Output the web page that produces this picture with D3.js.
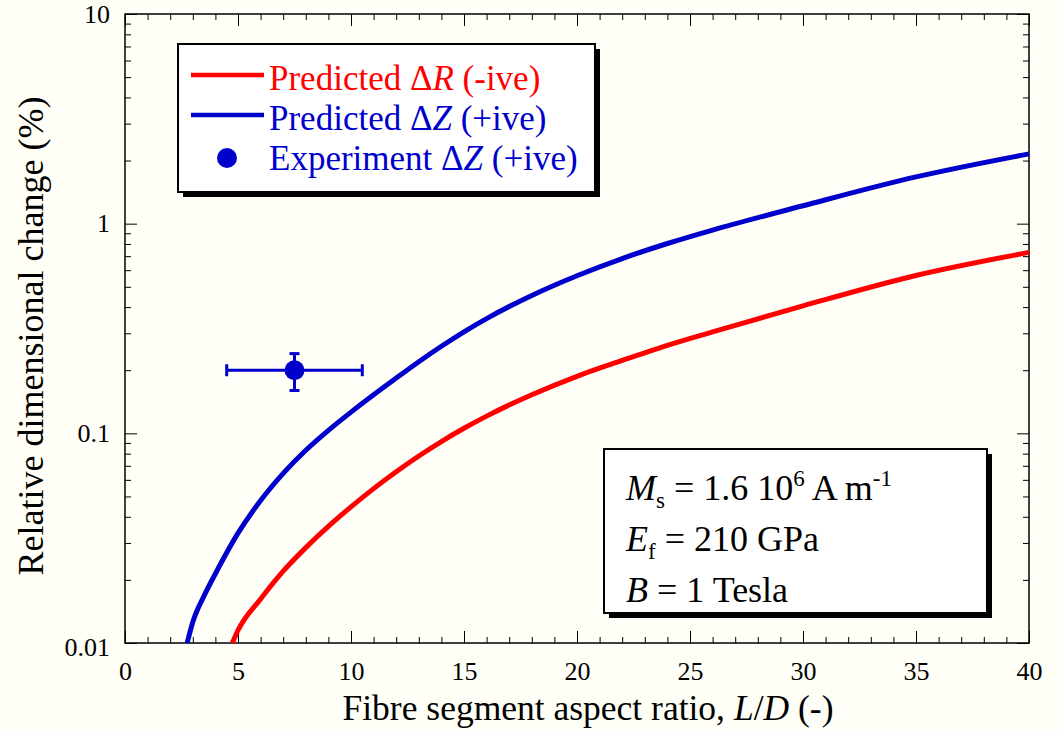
<!DOCTYPE html>
<html>
<head>
<meta charset="utf-8">
<script src="https://cdn.jsdelivr.net/npm/d3@7"></script>
<style>
  body { margin: 0; background: #fffff7; }
  svg { display: block; }
  svg text { font-family: "Liberation Serif", "Times New Roman", serif; }
</style>
</head>
<body>
<svg id="chart"></svg>
<script>
// values
const xMajorTicks = [0, 5, 10, 15, 20, 25, 30, 35, 40]
const yMajorTicks = [0.01, 0.1, 1, 10]
const yTickLabels = ["0.01", "0.1", "1", "10"]

const predictedR_LD = [4.75, 5, 6, 7, 8, 9, 10, 11, 12, 13, 14, 15, 16, 18, 20, 22, 24, 26, 30, 35, 40]
const predictedR = [0.0100, 0.0115, 0.0162, 0.0220, 0.0285, 0.0360, 0.0446, 0.0545, 0.0656, 0.0780, 0.0914, 0.1057, 0.1208, 0.1528, 0.1871, 0.2228, 0.2630, 0.3048, 0.4055, 0.5662, 0.7295]

const predictedZ_LD = [2.75, 3, 3.5, 4, 5, 6, 7, 8, 9, 10, 11, 12, 13, 14, 15, 16, 18, 20, 22, 24, 26, 30, 35, 40]
const predictedZ = [0.0100, 0.0126, 0.0168, 0.0214, 0.0334, 0.0478, 0.0644, 0.0830, 0.1033, 0.1262, 0.1527, 0.1834, 0.2196, 0.2603, 0.3051, 0.3527, 0.4544, 0.5643, 0.6817, 0.8043, 0.9322, 1.217, 1.671, 2.153]

const experimentLD = [7.5]
const experimentLDErr = [3]
const experimentDZ = [0.2]
const experimentDZLow = [0.16]
const experimentDZHigh = [0.24]

const red = "#ff0000"
const blue = "#0000cc"
const serif = '"Liberation Serif", "Times New Roman", serif'

var width = 1063
var height = 730
var margin = ({top: 14, right: 34, bottom: 87, left: 125})

var svg = d3.select("#chart")
	.attr("width", width)
	.attr("height", height)

svg.append("rect")
	.attr("width", width)
	.attr("height", height)
	.attr("fill", "#fffff7")

var x = d3.scaleLinear()
	.domain([0, 40])
	.range([margin.left, width - margin.right])

var y = d3.scaleLog()
	.domain([0.01, 10])
	.range([height - margin.bottom, margin.top])

var xMinor = d3.range(0, 41, 1).filter(v => v % 5 !== 0)
var yMinor = []
yMajorTicks.slice(0, 3).forEach(d => { for (let k = 2; k <= 9; k++) yMinor.push(d * k) })

// minor ticks (no labels), on all four sides, pointing inward
svg.append("g")
	.attr("transform", `translate(0,${y.range()[0]})`)
	.call(d3.axisBottom(x).tickValues(xMinor).tickSize(-6).tickFormat(""))
svg.append("g")
	.attr("transform", `translate(0,${y.range()[1]})`)
	.call(d3.axisTop(x).tickValues(xMinor).tickSize(-6).tickFormat(""))
svg.append("g")
	.attr("transform", `translate(${x.range()[0]},0)`)
	.call(d3.axisLeft(y).tickValues(yMinor).tickSize(-6).tickFormat(""))
svg.append("g")
	.attr("transform", `translate(${x.range()[1]},0)`)
	.call(d3.axisRight(y).tickValues(yMinor).tickSize(-6).tickFormat(""))

// major ticks
svg.append("g")
	.attr("transform", `translate(0,${y.range()[0]})`)
	.call(d3.axisBottom(x).tickValues(xMajorTicks).tickSize(-12).tickPadding(19).tickFormat(d3.format("d")))
svg.append("g")
	.attr("transform", `translate(0,${y.range()[1]})`)
	.call(d3.axisTop(x).tickValues(xMajorTicks).tickSize(-12).tickFormat(""))
var yAxisG = svg.append("g")
	.attr("transform", `translate(${x.range()[0]},0)`)
	.call(d3.axisLeft(y).tickValues(yMajorTicks).tickSize(-12).tickPadding(15).tickFormat((d, i) => yTickLabels[i]))
svg.append("g")
	.attr("transform", `translate(${x.range()[1]},0)`)
	.call(d3.axisRight(y).tickValues(yMajorTicks).tickSize(-12).tickFormat(""))

svg.selectAll(".domain").remove()
svg.selectAll("g").attr("font-family", null).attr("font-size", null)
svg.selectAll(".tick line").attr("stroke", "#000").attr("stroke-width", 1)
svg.selectAll(".tick text")
	.attr("fill", "#000")
	.style("font-family", serif)
	.style("font-size", "26px")
// the lowest label sits a little below its tick
yAxisG.selectAll(".tick").filter(d => d === 0.01).select("text").attr("y", 4)

// frame
svg.append("rect")
	.attr("x", x.range()[0])
	.attr("y", y.range()[1])
	.attr("width", x.range()[1] - x.range()[0])
	.attr("height", y.range()[0] - y.range()[1])
	.attr("fill", "none")
	.attr("stroke", "#000")
	.attr("stroke-width", 1.5)

// curves
var lineFunction = d3.line()
	.curve(d3.curveMonotoneX)
	.x(d => x(d[0]))
	.y(d => y(d[1]))

svg.append("path")
	.attr("fill", "none")
	.attr("stroke", red)
	.attr("stroke-width", 5)
	.attr("stroke-linejoin", "round")
	.attr("d", lineFunction(predictedR_LD.map((v, i) => [v, predictedR[i]])))

svg.append("path")
	.attr("fill", "none")
	.attr("stroke", blue)
	.attr("stroke-width", 5)
	.attr("stroke-linejoin", "round")
	.attr("d", lineFunction(predictedZ_LD.map((v, i) => [v, predictedZ[i]])))

// experimental point with error bars
var exp = svg.append("g").attr("stroke", blue).attr("stroke-width", 3)
experimentLD.forEach((ld, i) => {
	let cx = x(ld), cy = y(experimentDZ[i])
	let x0 = x(ld - experimentLDErr[i]), x1 = x(ld + experimentLDErr[i])
	let y0 = y(experimentDZLow[i]), y1 = y(experimentDZHigh[i])
	exp.append("line").attr("x1", x0).attr("x2", x1).attr("y1", cy).attr("y2", cy)
	exp.append("line").attr("x1", x0).attr("x2", x0).attr("y1", cy - 6).attr("y2", cy + 6)
	exp.append("line").attr("x1", x1).attr("x2", x1).attr("y1", cy - 6).attr("y2", cy + 6)
	exp.append("line").attr("x1", cx).attr("x2", cx).attr("y1", y0).attr("y2", y1)
	exp.append("line").attr("x1", cx - 5).attr("x2", cx + 5).attr("y1", y0).attr("y2", y0)
	exp.append("line").attr("x1", cx - 5).attr("x2", cx + 5).attr("y1", y1).attr("y2", y1)
	svg.append("circle").attr("cx", cx).attr("cy", cy).attr("r", 10).attr("fill", blue)
})

// axis titles
var xTitle = svg.append("text")
	.attr("x", 588)
	.attr("y", 720)
	.attr("text-anchor", "middle")
	.style("font-size", "35.5px")
xTitle.append("tspan").text("Fibre segment aspect ratio, ")
xTitle.append("tspan").attr("font-style", "italic").text("L")
xTitle.append("tspan").text("/")
xTitle.append("tspan").attr("font-style", "italic").text("D")
xTitle.append("tspan").text(" (-)")

svg.append("text")
	.attr("transform", "translate(43,336) rotate(-90)")
	.attr("text-anchor", "middle")
	.style("font-size", "36px")
	.text("Relative dimensional change (%)")

// boxes with a drop shadow
function shadowBox(x0, y0, w, h) {
	svg.append("rect").attr("x", x0 + 5).attr("y", y0 + 5).attr("width", w).attr("height", h).attr("fill", "#000")
	svg.append("rect").attr("x", x0).attr("y", y0).attr("width", w).attr("height", h)
		.attr("fill", "#fff").attr("stroke", "#000").attr("stroke-width", 2)
}

// legend
shadowBox(178, 44, 417, 148)
var legendItems = [
	{color: red, kind: "line", label: ["Predicted Δ", "R", " (-ive)"]},
	{color: blue, kind: "line", label: ["Predicted Δ", "Z", " (+ive)"]},
	{color: blue, kind: "dot", label: ["Experiment Δ", "Z", " (+ive)"]}
]
legendItems.forEach((item, i) => {
	let base = 90 + i * 40
	if (item.kind === "line") {
		svg.append("line").attr("x1", 191).attr("x2", 264).attr("y1", base - 15).attr("y2", base - 15)
			.attr("stroke", item.color).attr("stroke-width", 4.5)
	} else {
		svg.append("circle").attr("cx", 227).attr("cy", base - 12).attr("r", 10).attr("fill", item.color)
	}
	let t = svg.append("text").attr("x", 269).attr("y", base).style("font-size", "35px").attr("fill", item.color)
	t.append("tspan").text(item.label[0])
	t.append("tspan").attr("font-style", "italic").text(item.label[1])
	t.append("tspan").text(item.label[2])
})

// parameter box
shadowBox(604, 449, 383, 164)
var t1 = svg.append("text").attr("x", 626).attr("y", 500).style("font-size", "36px")
t1.append("tspan").attr("font-style", "italic").text("M")
t1.append("tspan").style("font-size", "23px").attr("dy", 8).text("s")
t1.append("tspan").attr("dy", -8).text(" = 1.6 10")
t1.append("tspan").style("font-size", "23px").attr("dy", -14).text("6")
t1.append("tspan").attr("dy", 14).text(" A m")
t1.append("tspan").style("font-size", "23px").attr("dy", -14).text("-1")

var t2 = svg.append("text").attr("x", 626).attr("y", 551).style("font-size", "36px")
t2.append("tspan").attr("font-style", "italic").text("E")
t2.append("tspan").style("font-size", "23px").attr("dy", 8).text("f")
t2.append("tspan").attr("dy", -8).text(" = 210 GPa")

var t3 = svg.append("text").attr("x", 626).attr("y", 602).style("font-size", "36px")
t3.append("tspan").attr("font-style", "italic").text("B")
t3.append("tspan").text(" = 1 Tesla")
</script>
</body>
</html>
